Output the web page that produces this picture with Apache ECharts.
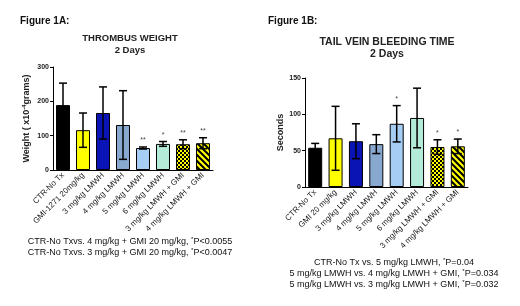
<!DOCTYPE html>
<html>
<head>
<meta charset="utf-8">
<script src="https://cdn.jsdelivr.net/npm/echarts@6/dist/echarts.min.js"></script>
<style>
html,body{margin:0;padding:0;background:#fff;}
#chart{width:520px;height:306px;}
</style>
</head>
<body>
<div id="chart"></div>
<script>
// Figure 1A - thrombus weight
var catsA = ['CTR-No Tx', 'GMI-1271 20mg/kg', '3 mg/kg LMWH', '4 mg/kg LMWH', '5 mg/kg LMWH', '6 mg/kg LMWH', '3 mg/kg LMWH + GMI', '4 mg/kg LMWH + GMI'];
var meanA = [189, 116, 166, 131, 64, 76, 75, 78];
var sdA = [64, 50, 76, 100, 3, 7, 13, 16];
var starsA = ['', '', '', '', '**', '*', '**', '**'];
var ticksA = [0, 100, 200, 300];

// Figure 1B - tail vein bleeding time
var catsB = ['CTR-No Tx', 'GMI 20 mg/kg', '3 mg/kg LMWH', '4 mg/kg LMWH', '5 mg/kg LMWH', '6 mg/kg LMWH', '3 mg/kg LMWH + GMI', '4 mg/kg LMWH + GMI'];
var meanB = [54, 67, 63, 59, 87, 95, 55, 56];
var sdB = [6, 44, 24, 13, 25, 41, 10, 10];
var starsB = ['', '', '', '', '*', '', '*', '*'];
var ticksB = [0, 50, 100, 150];

var notesA = ['CTR-No Txvs. 4 mg/kg + GMI 20 mg/kg, {s|*}P<0.0055', 'CTR-No Txvs. 3 mg/kg + GMI 20 mg/kg, {s|*}P<0.0047'];
var notesB = ['CTR-No Tx vs. 5 mg/kg LMWH, {s|*}P=0.04', '5 mg/kg LMWH vs. 4 mg/kg LMWH + GMI, {s|*}P=0.034', '5 mg/kg LMWH vs. 3 mg/kg LMWH + GMI, {s|*}P=0.032'];

var FONT = 'Liberation Sans';

function makePattern(kind){
    var c = document.createElement('canvas');
    var g;
    if (kind === 'check') {
        c.width = 4; c.height = 4;
        g = c.getContext('2d');
        g.fillStyle = '#ffff00';
        g.fillRect(0, 0, 4, 4);
        g.fillStyle = '#000';
        g.fillRect(0, 0, 2, 2);
        g.fillRect(2, 2, 2, 2);
    } else {
        c.width = 6; c.height = 6;
        g = c.getContext('2d');
        g.fillStyle = '#ffff00';
        g.fillRect(0, 0, 6, 6);
        g.strokeStyle = '#000';
        g.lineWidth = 2;
        g.beginPath();
        g.moveTo(-1, -1); g.lineTo(7, 7);
        g.moveTo(-4, 2); g.lineTo(4, 10);
        g.moveTo(2, -4); g.lineTo(10, 4);
        g.stroke();
    }
    return {image: c, repeat: 'repeat'};
}

var colors = ['#000000', '#ffff00', '#0a14b4', '#88a8d0', '#a6cdf4', '#b4ead8', makePattern('check'), makePattern('stripe')];

function barData(vals){
    return vals.map(function(v, i){
        return {value: v, itemStyle: {color: colors[i]}};
    });
}

function errData(mean, sd, stars){
    return mean.map(function(v, i){ return [i, v, v + sd[i], v - sd[i], stars[i]]; });
}

function renderErr(params, api){
    var x = api.value(0);
    var hi = api.coord([x, api.value(2)]);
    var lo = api.coord([x, Math.max(api.value(3), 0)]);
    var star = api.value(4);
    var cap = 4;
    var st = {stroke: '#000', lineWidth: 1.5};
    var kids = [
        {type: 'line', shape: {x1: hi[0], y1: hi[1], x2: lo[0], y2: lo[1]}, style: st},
        {type: 'line', shape: {x1: hi[0] - cap, y1: hi[1], x2: hi[0] + cap, y2: hi[1]}, style: st}
    ];
    if (api.value(3) > 0) {
        kids.push({type: 'line', shape: {x1: lo[0] - cap, y1: lo[1], x2: lo[0] + cap, y2: lo[1]}, style: st});
    }
    if (star) {
        kids.push({type: 'text', style: {text: star, x: hi[0], y: hi[1] - 3, align: 'center', verticalAlign: 'bottom', fill: '#444', fontSize: 7, fontFamily: FONT}});
    }
    return {type: 'group', children: kids};
}

function xAxisOf(idx, cats){
    return {
        type: 'category', gridIndex: idx, data: cats,
        axisLine: {lineStyle: {color: '#000', width: 1}},
        axisTick: {alignWithLabel: true, length: 3, lineStyle: {color: '#000'}},
        axisLabel: {rotate: 45, fontSize: 8, color: '#1a1a1a', margin: 4, interval: 0, fontFamily: FONT}
    };
}

function yAxisOf(idx, ticks, name, gap){
    return {
        type: 'value', gridIndex: idx, min: ticks[0], max: ticks[ticks.length - 1],
        interval: ticks[1] - ticks[0],
        name: name, nameLocation: 'middle', nameGap: gap, nameRotate: 90,
        nameTextStyle: {fontSize: 9, fontWeight: 'bold', color: '#222', fontFamily: FONT,
            rich: {s: {fontSize: 6, fontWeight: 'bold', color: '#222', fontFamily: FONT, padding: [0, 0, 5, 0]}}},
        axisLine: {show: true, lineStyle: {color: '#000', width: 1}},
        axisTick: {show: true, length: 3, lineStyle: {color: '#000'}},
        axisLabel: {fontSize: 7, fontWeight: 'bold', color: '#222', margin: 4, fontFamily: FONT},
        splitLine: {show: false}
    };
}

var noteRich = {s: {fontSize: 6, fontFamily: FONT, fill: '#111', padding: [0, 0, 4, 0]}};

var option = {
    animation: false,
    backgroundColor: '#fff',
    title: [
        {text: 'Figure 1A:', left: 20, top: 16, padding: 0, textStyle: {fontSize: 10, fontWeight: 'bold', color: '#111', fontFamily: FONT}},
        {text: 'THROMBUS WEIGHT\n2 Days', left: 130, top: 32, padding: 0, textAlign: 'center', textStyle: {fontSize: 9.5, fontWeight: 'bold', color: '#222', lineHeight: 12, fontFamily: FONT}},
        {text: 'Figure 1B:', left: 268, top: 16, padding: 0, textStyle: {fontSize: 10, fontWeight: 'bold', color: '#111', fontFamily: FONT}},
        {text: 'TAIL VEIN BLEEDING TIME\n2 Days', left: 387, top: 36, padding: 0, textAlign: 'center', textStyle: {fontSize: 10.5, fontWeight: 'bold', color: '#222', lineHeight: 12, fontFamily: FONT}}
    ],
    grid: [
        {left: 53, right: 307, top: 67, bottom: 136},
        {left: 305, right: 52, top: 78, bottom: 119}
    ],
    xAxis: [xAxisOf(0, catsA), xAxisOf(1, catsB)],
    yAxis: [
        yAxisOf(0, ticksA, 'Weight ( x10{s|-4}grams)', 21),
        yAxisOf(1, ticksB, 'Seconds', 19)
    ],
    series: [
        {type: 'bar', xAxisIndex: 0, yAxisIndex: 0, data: barData(meanA), barWidth: 14,
            itemStyle: {borderColor: '#000', borderWidth: 1}},
        {type: 'custom', xAxisIndex: 0, yAxisIndex: 0, data: errData(meanA, sdA, starsA), renderItem: renderErr, z: 5},
        {type: 'bar', xAxisIndex: 1, yAxisIndex: 1, data: barData(meanB), barWidth: 14,
            itemStyle: {borderColor: '#000', borderWidth: 1}},
        {type: 'custom', xAxisIndex: 1, yAxisIndex: 1, data: errData(meanB, sdB, starsB), renderItem: renderErr, z: 5}
    ],
    graphic: [
        {type: 'text', x: 130, y: 236, style: {text: notesA.join('\n'), fontSize: 9, fontFamily: FONT, fill: '#111', lineHeight: 11, align: 'center', rich: noteRich}},
        {type: 'text', x: 394, y: 257, style: {text: notesB.join('\n'), fontSize: 9, fontFamily: FONT, fill: '#111', lineHeight: 11, align: 'center', rich: noteRich}}
    ]
};

var myChart = echarts.init(document.getElementById('chart'));
myChart.setOption(option);
</script>
</body>
</html>
